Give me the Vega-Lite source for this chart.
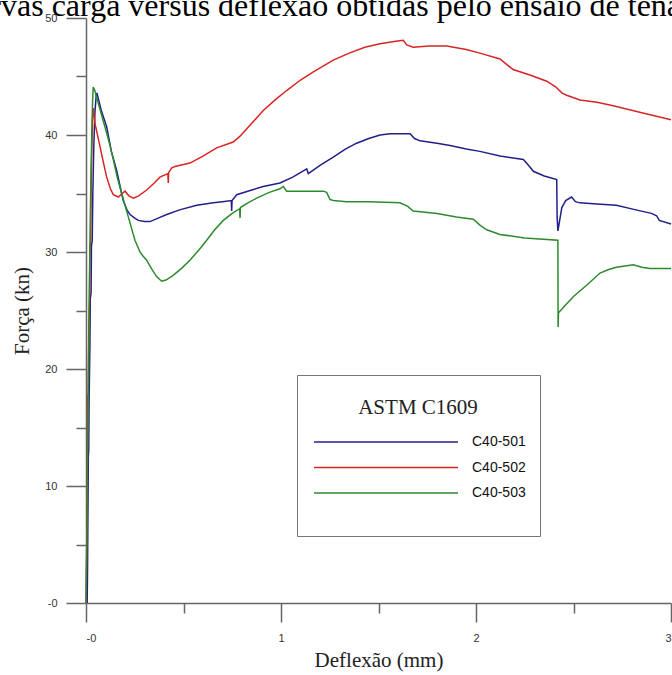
{
  "$schema": "https://vega.github.io/schema/vega-lite/v6.json",
  "width": 585,
  "height": 585,
  "autosize": {"type": "none"},
  "padding": {"left": 86, "top": 18, "right": 1, "bottom": 72},
  "background": "white",
  "title": {
    "text": "Curvas carga versus deflexão obtidas pelo ensaio de tenacidade",
    "anchor": "start",
    "frame": "group",
    "font": "Liberation Serif",
    "fontSize": 32,
    "fontWeight": "normal",
    "color": "#000000",
    "baseline": "alphabetic",
    "offset": 0,
    "dx": -133,
    "dy": 36
  },
  "datasets": {
    "curvas": [
      {"s": "C40-501", "x": 0.006, "y": 0},
      {"s": "C40-501", "x": 0.008, "y": 3},
      {"s": "C40-501", "x": 0.010, "y": 8},
      {"s": "C40-501", "x": 0.012, "y": 12.5},
      {"s": "C40-501", "x": 0.014, "y": 13},
      {"s": "C40-501", "x": 0.016, "y": 17.5},
      {"s": "C40-501", "x": 0.020, "y": 22},
      {"s": "C40-501", "x": 0.022, "y": 26},
      {"s": "C40-501", "x": 0.026, "y": 26.5},
      {"s": "C40-501", "x": 0.028, "y": 30.5},
      {"s": "C40-501", "x": 0.032, "y": 31},
      {"s": "C40-501", "x": 0.035, "y": 35},
      {"s": "C40-501", "x": 0.040, "y": 39},
      {"s": "C40-501", "x": 0.046, "y": 42},
      {"s": "C40-501", "x": 0.052, "y": 43.3},
      {"s": "C40-501", "x": 0.056, "y": 43.6},
      {"s": "C40-501", "x": 0.062, "y": 43.2},
      {"s": "C40-501", "x": 0.080, "y": 42.0},
      {"s": "C40-501", "x": 0.106, "y": 40.7},
      {"s": "C40-501", "x": 0.130, "y": 38.6},
      {"s": "C40-501", "x": 0.157, "y": 37.0},
      {"s": "C40-501", "x": 0.175, "y": 35.6},
      {"s": "C40-501", "x": 0.191, "y": 34.4},
      {"s": "C40-501", "x": 0.210, "y": 33.6},
      {"s": "C40-501", "x": 0.226, "y": 33.2},
      {"s": "C40-501", "x": 0.250, "y": 32.9},
      {"s": "C40-501", "x": 0.268, "y": 32.7},
      {"s": "C40-501", "x": 0.300, "y": 32.6},
      {"s": "C40-501", "x": 0.328, "y": 32.6},
      {"s": "C40-501", "x": 0.370, "y": 32.9},
      {"s": "C40-501", "x": 0.414, "y": 33.2},
      {"s": "C40-501", "x": 0.480, "y": 33.6},
      {"s": "C40-501", "x": 0.568, "y": 34.0},
      {"s": "C40-501", "x": 0.653, "y": 34.2},
      {"s": "C40-501", "x": 0.700, "y": 34.3},
      {"s": "C40-501", "x": 0.745, "y": 34.4},
      {"s": "C40-501", "x": 0.747, "y": 33.5},
      {"s": "C40-501", "x": 0.749, "y": 34.4},
      {"s": "C40-501", "x": 0.773, "y": 34.9},
      {"s": "C40-501", "x": 0.850, "y": 35.3},
      {"s": "C40-501", "x": 0.909, "y": 35.6},
      {"s": "C40-501", "x": 0.995, "y": 35.9},
      {"s": "C40-501", "x": 1.060, "y": 36.4},
      {"s": "C40-501", "x": 1.132, "y": 37.1},
      {"s": "C40-501", "x": 1.140, "y": 36.7},
      {"s": "C40-501", "x": 1.149, "y": 36.8},
      {"s": "C40-501", "x": 1.200, "y": 37.4},
      {"s": "C40-501", "x": 1.268, "y": 38.1},
      {"s": "C40-501", "x": 1.330, "y": 38.8},
      {"s": "C40-501", "x": 1.388, "y": 39.3},
      {"s": "C40-501", "x": 1.450, "y": 39.7},
      {"s": "C40-501", "x": 1.508, "y": 40.0},
      {"s": "C40-501", "x": 1.560, "y": 40.1},
      {"s": "C40-501", "x": 1.610, "y": 40.1},
      {"s": "C40-501", "x": 1.662, "y": 40.1},
      {"s": "C40-501", "x": 1.685, "y": 39.7},
      {"s": "C40-501", "x": 1.713, "y": 39.5},
      {"s": "C40-501", "x": 1.800, "y": 39.3},
      {"s": "C40-501", "x": 1.867, "y": 39.1},
      {"s": "C40-501", "x": 1.950, "y": 38.8},
      {"s": "C40-501", "x": 2.020, "y": 38.6},
      {"s": "C40-501", "x": 2.123, "y": 38.2},
      {"s": "C40-501", "x": 2.243, "y": 37.9},
      {"s": "C40-501", "x": 2.270, "y": 37.4},
      {"s": "C40-501", "x": 2.294, "y": 36.9},
      {"s": "C40-501", "x": 2.350, "y": 36.5},
      {"s": "C40-501", "x": 2.414, "y": 36.2},
      {"s": "C40-501", "x": 2.416, "y": 33.0},
      {"s": "C40-501", "x": 2.420, "y": 31.8},
      {"s": "C40-501", "x": 2.425, "y": 32.3},
      {"s": "C40-501", "x": 2.440, "y": 33.8},
      {"s": "C40-501", "x": 2.460, "y": 34.4},
      {"s": "C40-501", "x": 2.490, "y": 34.7},
      {"s": "C40-501", "x": 2.510, "y": 34.3},
      {"s": "C40-501", "x": 2.533, "y": 34.2},
      {"s": "C40-501", "x": 2.620, "y": 34.1},
      {"s": "C40-501", "x": 2.720, "y": 34.0},
      {"s": "C40-501", "x": 2.820, "y": 33.6},
      {"s": "C40-501", "x": 2.900, "y": 33.3},
      {"s": "C40-501", "x": 2.926, "y": 33.1},
      {"s": "C40-501", "x": 2.940, "y": 32.7},
      {"s": "C40-501", "x": 3.000, "y": 32.4},

      {"s": "C40-502", "x": 0.000, "y": 0},
      {"s": "C40-502", "x": 0.004, "y": 5},
      {"s": "C40-502", "x": 0.006, "y": 10},
      {"s": "C40-502", "x": 0.008, "y": 17.5},
      {"s": "C40-502", "x": 0.012, "y": 18},
      {"s": "C40-502", "x": 0.014, "y": 23},
      {"s": "C40-502", "x": 0.018, "y": 26},
      {"s": "C40-502", "x": 0.020, "y": 30},
      {"s": "C40-502", "x": 0.024, "y": 31},
      {"s": "C40-502", "x": 0.026, "y": 35},
      {"s": "C40-502", "x": 0.030, "y": 39},
      {"s": "C40-502", "x": 0.034, "y": 41.5},
      {"s": "C40-502", "x": 0.038, "y": 42.3},
      {"s": "C40-502", "x": 0.046, "y": 41.0},
      {"s": "C40-502", "x": 0.072, "y": 39.0},
      {"s": "C40-502", "x": 0.090, "y": 37.6},
      {"s": "C40-502", "x": 0.106, "y": 36.4},
      {"s": "C40-502", "x": 0.125, "y": 35.4},
      {"s": "C40-502", "x": 0.140, "y": 34.9},
      {"s": "C40-502", "x": 0.166, "y": 34.7},
      {"s": "C40-502", "x": 0.185, "y": 35.0},
      {"s": "C40-502", "x": 0.200, "y": 35.2},
      {"s": "C40-502", "x": 0.220, "y": 34.8},
      {"s": "C40-502", "x": 0.243, "y": 34.6},
      {"s": "C40-502", "x": 0.270, "y": 34.8},
      {"s": "C40-502", "x": 0.311, "y": 35.3},
      {"s": "C40-502", "x": 0.350, "y": 35.9},
      {"s": "C40-502", "x": 0.379, "y": 36.4},
      {"s": "C40-502", "x": 0.420, "y": 36.7},
      {"s": "C40-502", "x": 0.422, "y": 35.9},
      {"s": "C40-502", "x": 0.424, "y": 36.8},
      {"s": "C40-502", "x": 0.440, "y": 37.2},
      {"s": "C40-502", "x": 0.456, "y": 37.3},
      {"s": "C40-502", "x": 0.533, "y": 37.6},
      {"s": "C40-502", "x": 0.600, "y": 38.2},
      {"s": "C40-502", "x": 0.670, "y": 38.9},
      {"s": "C40-502", "x": 0.755, "y": 39.4},
      {"s": "C40-502", "x": 0.790, "y": 39.9},
      {"s": "C40-502", "x": 0.850, "y": 41.0},
      {"s": "C40-502", "x": 0.909, "y": 42.1},
      {"s": "C40-502", "x": 0.970, "y": 43.0},
      {"s": "C40-502", "x": 1.029, "y": 43.8},
      {"s": "C40-502", "x": 1.100, "y": 44.7},
      {"s": "C40-502", "x": 1.166, "y": 45.4},
      {"s": "C40-502", "x": 1.268, "y": 46.4},
      {"s": "C40-502", "x": 1.350, "y": 47.0},
      {"s": "C40-502", "x": 1.430, "y": 47.5},
      {"s": "C40-502", "x": 1.508, "y": 47.8},
      {"s": "C40-502", "x": 1.580, "y": 48.0},
      {"s": "C40-502", "x": 1.627, "y": 48.1},
      {"s": "C40-502", "x": 1.645, "y": 47.7},
      {"s": "C40-502", "x": 1.678, "y": 47.5},
      {"s": "C40-502", "x": 1.760, "y": 47.6},
      {"s": "C40-502", "x": 1.850, "y": 47.6},
      {"s": "C40-502", "x": 1.950, "y": 47.3},
      {"s": "C40-502", "x": 2.020, "y": 47.0},
      {"s": "C40-502", "x": 2.123, "y": 46.5},
      {"s": "C40-502", "x": 2.160, "y": 46.0},
      {"s": "C40-502", "x": 2.190, "y": 45.6},
      {"s": "C40-502", "x": 2.280, "y": 45.1},
      {"s": "C40-502", "x": 2.363, "y": 44.6},
      {"s": "C40-502", "x": 2.410, "y": 44.1},
      {"s": "C40-502", "x": 2.440, "y": 43.6},
      {"s": "C40-502", "x": 2.465, "y": 43.4},
      {"s": "C40-502", "x": 2.533, "y": 43.0},
      {"s": "C40-502", "x": 2.620, "y": 42.8},
      {"s": "C40-502", "x": 2.704, "y": 42.5},
      {"s": "C40-502", "x": 2.850, "y": 41.9},
      {"s": "C40-502", "x": 3.000, "y": 41.3},

      {"s": "C40-503", "x": 0.000, "y": 0},
      {"s": "C40-503", "x": 0.003, "y": 4},
      {"s": "C40-503", "x": 0.006, "y": 9},
      {"s": "C40-503", "x": 0.010, "y": 16},
      {"s": "C40-503", "x": 0.014, "y": 22},
      {"s": "C40-503", "x": 0.018, "y": 28},
      {"s": "C40-503", "x": 0.022, "y": 33},
      {"s": "C40-503", "x": 0.026, "y": 37},
      {"s": "C40-503", "x": 0.030, "y": 40.5},
      {"s": "C40-503", "x": 0.034, "y": 43},
      {"s": "C40-503", "x": 0.037, "y": 44.1},
      {"s": "C40-503", "x": 0.045, "y": 43.8},
      {"s": "C40-503", "x": 0.063, "y": 42.7},
      {"s": "C40-503", "x": 0.097, "y": 40.7},
      {"s": "C40-503", "x": 0.120, "y": 39.3},
      {"s": "C40-503", "x": 0.140, "y": 37.9},
      {"s": "C40-503", "x": 0.160, "y": 36.4},
      {"s": "C40-503", "x": 0.183, "y": 35.0},
      {"s": "C40-503", "x": 0.217, "y": 33.0},
      {"s": "C40-503", "x": 0.251, "y": 31.0},
      {"s": "C40-503", "x": 0.277, "y": 30.0},
      {"s": "C40-503", "x": 0.290, "y": 29.7},
      {"s": "C40-503", "x": 0.311, "y": 29.3},
      {"s": "C40-503", "x": 0.335, "y": 28.6},
      {"s": "C40-503", "x": 0.362, "y": 27.9},
      {"s": "C40-503", "x": 0.388, "y": 27.5},
      {"s": "C40-503", "x": 0.410, "y": 27.6},
      {"s": "C40-503", "x": 0.447, "y": 28.0},
      {"s": "C40-503", "x": 0.490, "y": 28.6},
      {"s": "C40-503", "x": 0.533, "y": 29.3},
      {"s": "C40-503", "x": 0.580, "y": 30.2},
      {"s": "C40-503", "x": 0.619, "y": 31.0},
      {"s": "C40-503", "x": 0.660, "y": 31.9},
      {"s": "C40-503", "x": 0.704, "y": 32.7},
      {"s": "C40-503", "x": 0.750, "y": 33.3},
      {"s": "C40-503", "x": 0.788, "y": 33.7},
      {"s": "C40-503", "x": 0.790, "y": 32.9},
      {"s": "C40-503", "x": 0.792, "y": 33.8},
      {"s": "C40-503", "x": 0.830, "y": 34.2},
      {"s": "C40-503", "x": 0.875, "y": 34.6},
      {"s": "C40-503", "x": 0.940, "y": 35.1},
      {"s": "C40-503", "x": 0.995, "y": 35.4},
      {"s": "C40-503", "x": 1.012, "y": 35.6},
      {"s": "C40-503", "x": 1.029, "y": 35.2},
      {"s": "C40-503", "x": 1.100, "y": 35.2},
      {"s": "C40-503", "x": 1.217, "y": 35.2},
      {"s": "C40-503", "x": 1.234, "y": 35.1},
      {"s": "C40-503", "x": 1.251, "y": 34.5},
      {"s": "C40-503", "x": 1.268, "y": 34.4},
      {"s": "C40-503", "x": 1.337, "y": 34.3},
      {"s": "C40-503", "x": 1.450, "y": 34.3},
      {"s": "C40-503", "x": 1.610, "y": 34.2},
      {"s": "C40-503", "x": 1.650, "y": 33.9},
      {"s": "C40-503", "x": 1.678, "y": 33.5},
      {"s": "C40-503", "x": 1.800, "y": 33.3},
      {"s": "C40-503", "x": 1.900, "y": 33.0},
      {"s": "C40-503", "x": 1.986, "y": 32.8},
      {"s": "C40-503", "x": 2.020, "y": 32.3},
      {"s": "C40-503", "x": 2.055, "y": 31.9},
      {"s": "C40-503", "x": 2.123, "y": 31.5},
      {"s": "C40-503", "x": 2.250, "y": 31.2},
      {"s": "C40-503", "x": 2.420, "y": 31.0},
      {"s": "C40-503", "x": 2.421, "y": 23.6},
      {"s": "C40-503", "x": 2.423, "y": 24.8},
      {"s": "C40-503", "x": 2.450, "y": 25.3},
      {"s": "C40-503", "x": 2.500, "y": 26.2},
      {"s": "C40-503", "x": 2.570, "y": 27.2},
      {"s": "C40-503", "x": 2.636, "y": 28.2},
      {"s": "C40-503", "x": 2.680, "y": 28.5},
      {"s": "C40-503", "x": 2.720, "y": 28.7},
      {"s": "C40-503", "x": 2.807, "y": 28.9},
      {"s": "C40-503", "x": 2.850, "y": 28.7},
      {"s": "C40-503", "x": 2.892, "y": 28.6},
      {"s": "C40-503", "x": 3.000, "y": 28.6}
    ]
  },
  "data": {"name": "curvas"},
  "mark": {"type": "line", "strokeWidth": 1.5, "interpolate": "linear"},
  "encoding": {
    "x": {
      "field": "x",
      "type": "quantitative",
      "scale": {"domain": [0, 3], "nice": false, "zero": false},
      "axis": {
        "title": "Deflexão (mm)",
        "values": [0, 0.5, 1, 1.5, 2, 2.5, 3],
        "labelExpr": "datum.value === 0 ? '-0' : (datum.value % 1 === 0 ? '' + datum.value : '')",
        "tickSize": {"condition": {"test": "datum.value % 1 !== 0", "value": 10}, "value": 19},
        "labelPadding": 10,
        "titlePadding": 6
      }
    },
    "y": {
      "field": "y",
      "type": "quantitative",
      "scale": {"domain": [0, 50], "nice": false, "zero": false},
      "axis": {
        "title": "Força (kn)",
        "values": [0, 5, 10, 15, 20, 25, 30, 35, 40, 45, 50],
        "labelExpr": "datum.value === 0 ? '-0' : (datum.value % 10 === 0 ? '' + datum.value : '')",
        "tickSize": {"condition": {"test": "datum.value % 10 !== 0", "value": 10}, "value": 20},
        "labelPadding": 9,
        "titlePadding": 12
      }
    },
    "color": {
      "field": "s",
      "type": "nominal",
      "scale": {
        "domain": ["C40-501", "C40-502", "C40-503"],
        "range": ["#20208a", "#d82424", "#2e8a2e"]
      },
      "legend": {
        "orient": "none",
        "legendX": 211,
        "legendY": 357,
        "title": "ASTM C1609",
        "titleFont": "Liberation Serif",
        "titleFontSize": 21,
        "titleFontWeight": "normal",
        "titleColor": "#222222",
        "titleAnchor": "middle",
        "titleBaseline": "line-top",
        "titleLineHeight": 37,
        "titlePadding": 21,
        "labelFont": "Liberation Sans",
        "labelFontSize": 14,
        "labelColor": "#111111",
        "labelOffset": 139,
        "symbolType": "M-0.8,0H13.6",
        "symbolSize": 400,
        "symbolStrokeWidth": 1.5,
        "rowPadding": 7.5,
        "padding": 14,
        "strokeColor": "#777777",
        "fillColor": "#ffffff",
        "encode": {
          "symbols": {
            "update": {
              "shape": {"signal": "datum.value === 'C40-503' ? 'M-0.8,0H13.6M0,2.6' : 'M-0.8,0H13.6'"}
            }
          }
        }
      }
    }
  },
  "config": {
    "view": {"stroke": null},
    "axis": {
      "grid": false,
      "domainColor": "#666666",
      "domainWidth": 1.5,
      "tickColor": "#666666",
      "tickWidth": 1.5,
      "labelFont": "Liberation Sans",
      "labelFontSize": 11,
      "labelColor": "#333333",
      "titleFont": "Liberation Serif",
      "titleFontSize": 21,
      "titleFontWeight": "normal",
      "titleColor": "#222222"
    }
  }
}
